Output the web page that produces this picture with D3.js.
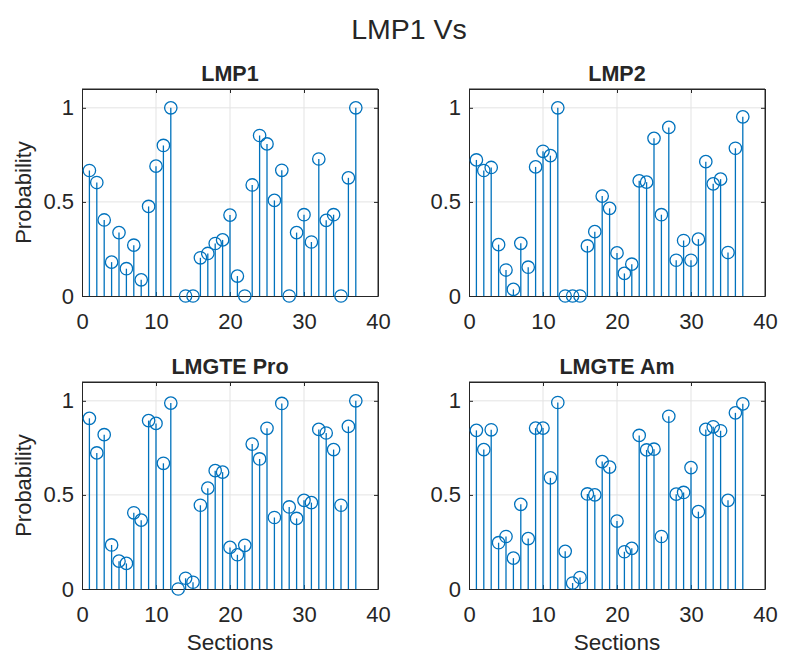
<!DOCTYPE html>
<html>
<head>
<meta charset="utf-8">
<script src="https://cdn.jsdelivr.net/npm/d3@7"></script>
<style>
  body { margin: 0; background: #fff; }
  text { font-family: "Liberation Sans", Arial, sans-serif; fill: #262626; }
</style>
</head>
<body>
<div class="chart"></div>
<script>
const sections = [1,2,3,4,5,6,7,8,9,10,11,12,13,14,15,16,17,18,19,20,21,22,23,24,25,26,27,28,29,30,31,32,33,34,35,36,37];

// null = no sample for that section
const lmp1 = [0.667,0.603,0.404,0.18,0.337,0.145,0.27,0.086,0.476,0.69,0.80,1.0,null,0,0,0.203,0.226,0.279,0.298,0.43,
  0.106,0,0.59,0.853,0.808,0.508,0.668,0,0.337,0.432,0.287,0.728,0.402,0.432,0,0.628,1.0];
const lmp2 = [0.723,0.667,0.683,0.273,0.138,0.035,0.28,0.153,0.686,0.769,0.746,1.0,0,0,0,0.266,0.342,0.531,0.466,0.229,
  0.12,0.169,0.612,0.605,0.838,0.432,0.896,0.19,0.295,0.19,0.302,0.714,0.596,0.621,0.231,0.785,0.952];
const lmgtePro = [0.907,0.723,0.82,0.234,0.148,0.136,0.405,0.366,0.895,0.88,0.668,0.988,0,0.057,0.036,0.445,0.536,0.629,0.621,0.221,
  0.182,0.232,0.77,0.691,0.854,0.38,0.986,0.436,0.375,0.471,0.459,0.848,0.829,0.741,0.445,0.864,1.0];
const lmgteAm = [0.843,0.741,0.846,0.246,0.279,0.164,0.45,0.268,0.855,0.855,0.591,0.991,0.2,0.032,0.061,0.505,0.5,0.677,0.648,0.361,
  0.198,0.216,0.816,0.739,0.743,0.279,0.918,0.504,0.513,0.645,0.411,0.848,0.862,0.841,0.471,0.936,0.984];

const panelTitles = ["LMP1", "LMP2", "LMGTE Pro", "LMGTE Am"];
const xTicks = [0, 10, 20, 30, 40];
const yTicks = [0, 0.5, 1];

const width = 789, height = 657;
const svg = d3.select(".chart").append("svg")
  .attr("width", width).attr("height", height);

svg.append("text")
  .attr("x", 409).attr("y", 39)
  .attr("text-anchor", "middle")
  .attr("font-size", 28.5)
  .attr("fill", "#000")
  .text("LMP1 Vs");

const panels = [
  {data: lmp1, left: 82, top: 89, ylab: true, xlab: false},
  {data: lmp2, left: 469, top: 89, ylab: false, xlab: false},
  {data: lmgtePro, left: 82, top: 382, ylab: true, xlab: true},
  {data: lmgteAm, left: 469, top: 382, ylab: false, xlab: true}
];
const pw = 296, ph = 207;
const blue = "#0072bd";

panels.forEach((p, k) => {
  const g = svg.append("g").attr("transform", `translate(${p.left},${p.top})`);
  const x = d3.scaleLinear().domain([0, 40]).range([0, pw]);
  const y = d3.scaleLinear().domain([0, 1.1]).range([ph, 0]);

  // grid
  g.selectAll(".gx").data(xTicks.slice(1, -1)).enter().append("line")
    .attr("x1", d => x(d)).attr("x2", d => x(d))
    .attr("y1", 0).attr("y2", ph)
    .attr("stroke", "#e3e3e3").attr("stroke-width", 1);
  g.selectAll(".gy").data(yTicks.slice(1)).enter().append("line")
    .attr("x1", 0).attr("x2", pw)
    .attr("y1", d => y(d)).attr("y2", d => y(d))
    .attr("stroke", "#e3e3e3").attr("stroke-width", 1);

  // axes
  const xAxis = d3.axisBottom(x).tickValues(xTicks).tickSizeInner(-4).tickSizeOuter(0).tickPadding(17);
  const yAxis = d3.axisLeft(y).tickValues(yTicks).tickSizeInner(-4).tickSizeOuter(0).tickPadding(8)
    .tickFormat(d3.format("~g"));
  const xa = g.append("g").attr("transform", `translate(0,${ph})`).call(xAxis);
  const ya = g.append("g").call(yAxis);
  const xt = g.append("g").call(d3.axisTop(x).tickValues(xTicks).tickSizeInner(-4).tickSizeOuter(0).tickFormat(""));
  const yr = g.append("g").attr("transform", `translate(${pw},0)`)
    .call(d3.axisRight(y).tickValues(yTicks).tickSizeInner(-4).tickSizeOuter(0).tickFormat(""));
  [xa, ya, xt, yr].forEach(a => {
    a.select(".domain").attr("stroke", "#262626").attr("stroke-width", 1);
    a.selectAll(".tick line").attr("stroke", "#262626");
    a.selectAll(".tick text").attr("font-size", 22).attr("fill", "#262626")
      .attr("font-family", "Liberation Sans, Arial, sans-serif");
  });
  // box closing lines
  g.append("line").attr("x1", 0).attr("x2", pw).attr("y1", 0).attr("y2", 0).attr("stroke", "#262626");
  g.append("line").attr("x1", pw).attr("x2", pw).attr("y1", 0).attr("y2", ph).attr("stroke", "#262626");

  const pts = sections.map((s, i) => ({s: s, v: p.data[i]})).filter(d => d.v !== null);

  g.selectAll(".stem").data(pts).enter().append("line")
    .attr("x1", d => x(d.s)).attr("x2", d => x(d.s))
    .attr("y1", y(0)).attr("y2", d => y(d.v))
    .attr("stroke", blue).attr("stroke-width", 1.3);
  g.selectAll(".mk").data(pts).enter().append("circle")
    .attr("cx", d => x(d.s)).attr("cy", d => y(d.v))
    .attr("r", 6.2)
    .attr("fill", "none").attr("stroke", blue).attr("stroke-width", 1.3);

  g.append("text")
    .attr("x", pw / 2).attr("y", -8)
    .attr("text-anchor", "middle")
    .attr("font-size", 21.5).attr("font-weight", "bold")
    .attr("fill", "#000")
    .text(panelTitles[k]);

  if (p.ylab) {
    g.append("text")
      .attr("transform", `translate(-51,${ph / 2}) rotate(-90)`)
      .attr("text-anchor", "middle")
      .attr("font-size", 22)
      .text("Probability");
  }
  if (p.xlab) {
    g.append("text")
      .attr("x", pw / 2).attr("y", ph + 61)
      .attr("text-anchor", "middle")
      .attr("font-size", 22.5)
      .text("Sections");
  }
});
</script>
</body>
</html>
